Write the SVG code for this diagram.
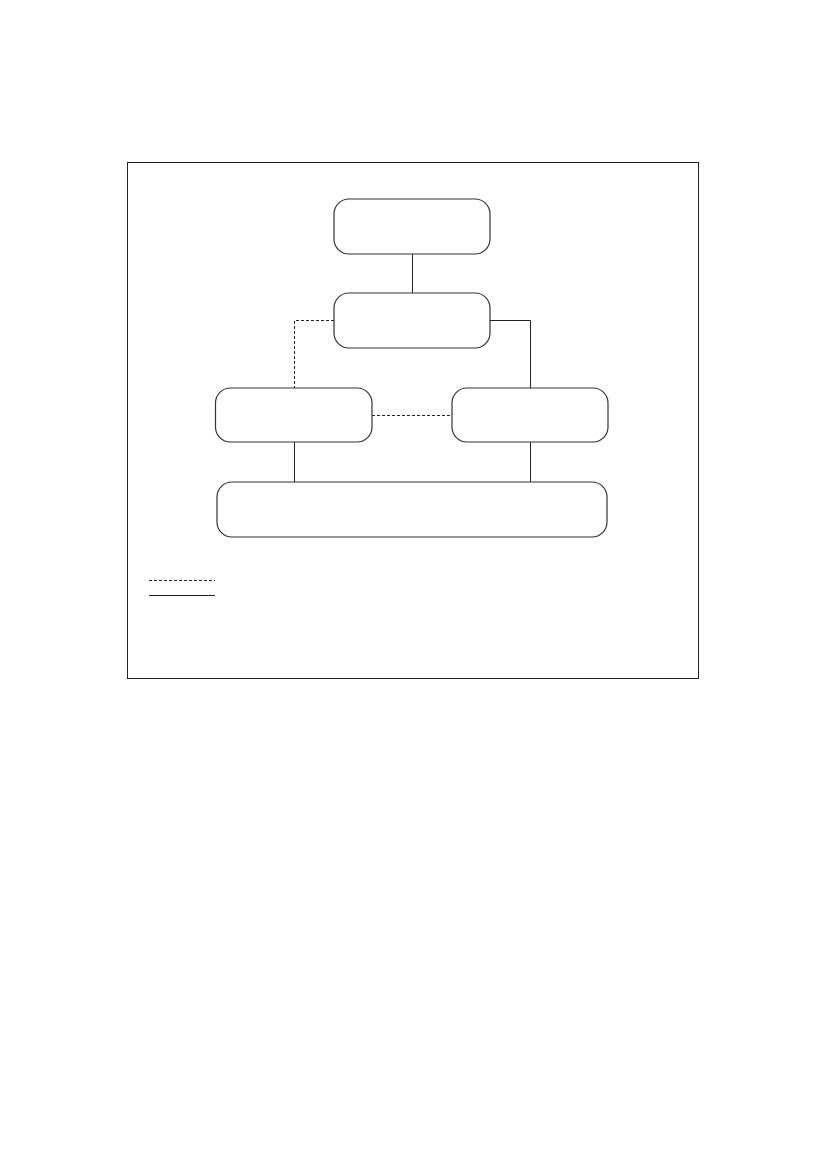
<svg xmlns="http://www.w3.org/2000/svg" width="827" height="1169" viewBox="0 0 827 1169">
<style>
.box{fill:#fff;stroke:#333;stroke-width:1.2}
.solid{fill:none;stroke:#222;stroke-width:1}
.dash{fill:none;stroke:#222;stroke-width:1;stroke-dasharray:3 2}
</style>
<rect width="827" height="1169" fill="#fff"/>
<rect id="frame" x="127.5" y="162.5" width="571" height="516" fill="none" stroke="#222" stroke-width="1"/>
<g id="connectors">
<path class="solid" d="M412.5 254V293"/>
<path class="dash" d="M334 320.5H294.5V388"/>
<path class="solid" d="M490 320.5H530.5V388"/>
<path class="dash" d="M372 415.5H452"/>
<path class="solid" d="M294.5 442V482"/>
<path class="solid" d="M530.5 442V482"/>
</g>
<g id="node-top"><rect class="box" x="334" y="199" width="156" height="55" rx="15"/></g>
<g id="node-middle"><rect class="box" x="334" y="293" width="156" height="55" rx="15"/></g>
<g id="node-left"><rect class="box" x="215.5" y="388" width="156.5" height="54" rx="15"/></g>
<g id="node-right"><rect class="box" x="452" y="388" width="156" height="54" rx="15"/></g>
<g id="node-bottom"><rect class="box" x="217" y="482" width="390" height="55" rx="15"/></g>
<g id="legend">
<path class="dash" d="M149 580.5H215"/>
<path class="solid" d="M149 595.5H215" stroke-width="1.3"/>
</g>
</svg>
